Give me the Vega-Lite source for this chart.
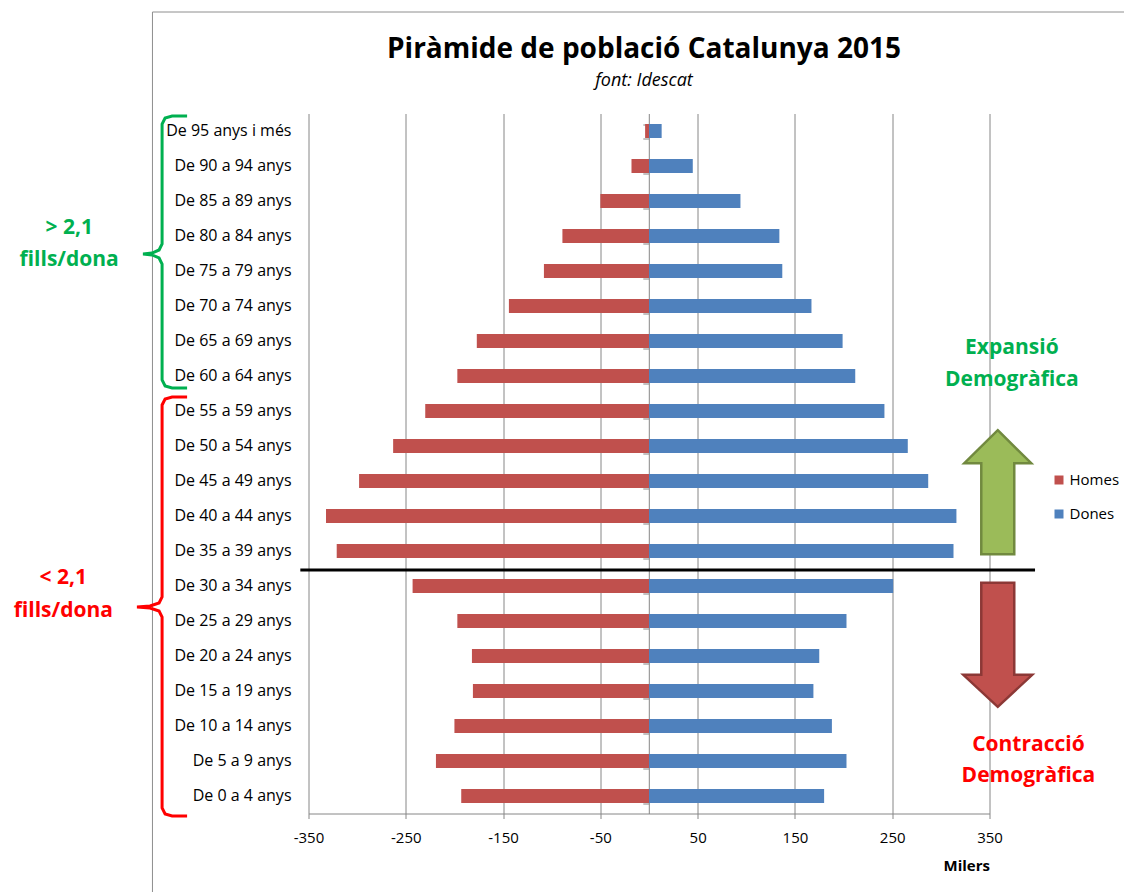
{
  "$schema": "https://vega.github.io/schema/vega-lite/v6.json",
  "width": 681,
  "height": 700,
  "autosize": {"type": "none"},
  "padding": {"left": 308.5, "top": 113.5, "right": 134.5, "bottom": 78.5},
  "background": "white",
  "config": {"view": {"stroke": null}, "font": "Open Sans"},
  "title": {
    "text": "Piràmide de població Catalunya 2015",
    "subtitle": "font: Idescat",
    "font": "Open Sans",
    "fontSize": 28,
    "fontWeight": "bold",
    "color": "black",
    "subtitleFont": "Open Sans",
    "subtitleFontSize": 18,
    "subtitleFontStyle": "italic",
    "subtitleColor": "black",
    "anchor": "middle",
    "frame": "group",
    "offset": -78,
    "subtitlePadding": 8,
    "dx": -5
  },
  "datasets": {
    "poblacio": [
      {"grup": "De 95 anys i més", "sexe": "Homes", "milers": -4},
      {"grup": "De 90 a 94 anys", "sexe": "Homes", "milers": -18},
      {"grup": "De 85 a 89 anys", "sexe": "Homes", "milers": -50},
      {"grup": "De 80 a 84 anys", "sexe": "Homes", "milers": -89},
      {"grup": "De 75 a 79 anys", "sexe": "Homes", "milers": -108},
      {"grup": "De 70 a 74 anys", "sexe": "Homes", "milers": -144},
      {"grup": "De 65 a 69 anys", "sexe": "Homes", "milers": -177},
      {"grup": "De 60 a 64 anys", "sexe": "Homes", "milers": -197},
      {"grup": "De 55 a 59 anys", "sexe": "Homes", "milers": -230},
      {"grup": "De 50 a 54 anys", "sexe": "Homes", "milers": -263},
      {"grup": "De 45 a 49 anys", "sexe": "Homes", "milers": -298},
      {"grup": "De 40 a 44 anys", "sexe": "Homes", "milers": -332},
      {"grup": "De 35 a 39 anys", "sexe": "Homes", "milers": -321},
      {"grup": "De 30 a 34 anys", "sexe": "Homes", "milers": -243},
      {"grup": "De 25 a 29 anys", "sexe": "Homes", "milers": -197},
      {"grup": "De 20 a 24 anys", "sexe": "Homes", "milers": -182},
      {"grup": "De 15 a 19 anys", "sexe": "Homes", "milers": -181},
      {"grup": "De 10 a 14 anys", "sexe": "Homes", "milers": -200},
      {"grup": "De 5 a 9 anys", "sexe": "Homes", "milers": -219},
      {"grup": "De 0 a 4 anys", "sexe": "Homes", "milers": -193},
      {"grup": "De 95 anys i més", "sexe": "Dones", "milers": 13},
      {"grup": "De 90 a 94 anys", "sexe": "Dones", "milers": 45},
      {"grup": "De 85 a 89 anys", "sexe": "Dones", "milers": 94},
      {"grup": "De 80 a 84 anys", "sexe": "Dones", "milers": 134},
      {"grup": "De 75 a 79 anys", "sexe": "Dones", "milers": 137},
      {"grup": "De 70 a 74 anys", "sexe": "Dones", "milers": 167},
      {"grup": "De 65 a 69 anys", "sexe": "Dones", "milers": 199},
      {"grup": "De 60 a 64 anys", "sexe": "Dones", "milers": 212},
      {"grup": "De 55 a 59 anys", "sexe": "Dones", "milers": 242},
      {"grup": "De 50 a 54 anys", "sexe": "Dones", "milers": 266},
      {"grup": "De 45 a 49 anys", "sexe": "Dones", "milers": 287},
      {"grup": "De 40 a 44 anys", "sexe": "Dones", "milers": 316},
      {"grup": "De 35 a 39 anys", "sexe": "Dones", "milers": 313},
      {"grup": "De 30 a 34 anys", "sexe": "Dones", "milers": 251},
      {"grup": "De 25 a 29 anys", "sexe": "Dones", "milers": 203},
      {"grup": "De 20 a 24 anys", "sexe": "Dones", "milers": 175},
      {"grup": "De 15 a 19 anys", "sexe": "Dones", "milers": 169},
      {"grup": "De 10 a 14 anys", "sexe": "Dones", "milers": 188},
      {"grup": "De 5 a 9 anys", "sexe": "Dones", "milers": 203},
      {"grup": "De 0 a 4 anys", "sexe": "Dones", "milers": 180}
    ],
    "marc": [
      {"x": -510.4, "x2": -510.4, "edat": 114.5, "edat2": -12},
      {"x": -510.4, "x2": 495, "edat": 114.5, "edat2": 114.5}
    ],
    "linia": [
      {"x": -358.4, "x2": 396.8, "edat": 34.8}
    ],
    "claus": [
      {"tipus": "alta", "ordre": 1, "x": -474.8, "edat": 99.64},
      {"tipus": "alta", "ordre": 2, "x": -490.2, "edat": 99.64},
      {"tipus": "alta", "ordre": 3, "x": -497.4, "edat": 99.36},
      {"tipus": "alta", "ordre": 4, "x": -500.5, "edat": 98.5},
      {"tipus": "alta", "ordre": 5, "x": -500.5, "edat": 81.36},
      {"tipus": "alta", "ordre": 6, "x": -503.6, "edat": 80.5},
      {"tipus": "alta", "ordre": 7, "x": -510.8, "edat": 80.07},
      {"tipus": "alta", "ordre": 8, "x": -520.1, "edat": 79.93},
      {"tipus": "alta", "ordre": 9, "x": -510.8, "edat": 79.79},
      {"tipus": "alta", "ordre": 10, "x": -503.6, "edat": 79.36},
      {"tipus": "alta", "ordre": 11, "x": -500.5, "edat": 78.5},
      {"tipus": "alta", "ordre": 12, "x": -500.5, "edat": 61.93},
      {"tipus": "alta", "ordre": 13, "x": -497.4, "edat": 61.07},
      {"tipus": "alta", "ordre": 14, "x": -490.2, "edat": 60.79},
      {"tipus": "alta", "ordre": 15, "x": -474.8, "edat": 60.79},
      {"tipus": "baixa", "ordre": 1, "x": -474.8, "edat": 59.5},
      {"tipus": "baixa", "ordre": 2, "x": -490.2, "edat": 59.5},
      {"tipus": "baixa", "ordre": 3, "x": -497.4, "edat": 59.21},
      {"tipus": "baixa", "ordre": 4, "x": -500.5, "edat": 58.36},
      {"tipus": "baixa", "ordre": 5, "x": -500.5, "edat": 30.93},
      {"tipus": "baixa", "ordre": 6, "x": -503.6, "edat": 30.07},
      {"tipus": "baixa", "ordre": 7, "x": -512.9, "edat": 29.64},
      {"tipus": "baixa", "ordre": 8, "x": -526.3, "edat": 29.5},
      {"tipus": "baixa", "ordre": 9, "x": -512.9, "edat": 29.36},
      {"tipus": "baixa", "ordre": 10, "x": -503.6, "edat": 28.93},
      {"tipus": "baixa", "ordre": 11, "x": -500.5, "edat": 28.07},
      {"tipus": "baixa", "ordre": 12, "x": -500.5, "edat": 0.79},
      {"tipus": "baixa", "ordre": 13, "x": -497.4, "edat": -0.07},
      {"tipus": "baixa", "ordre": 14, "x": -490.2, "edat": -0.36},
      {"tipus": "baixa", "ordre": 15, "x": -474.8, "edat": -0.36}
    ],
    "textos": [
      {"tipus": "alta", "text": "> 2,1", "x": -596, "edat": 83.6},
      {"tipus": "alta", "text": "fills/dona", "x": -596, "edat": 79.1},
      {"tipus": "baixa", "text": "< 2,1", "x": -602, "edat": 33.6},
      {"tipus": "baixa", "text": "fills/dona", "x": -602, "edat": 28.9},
      {"tipus": "alta", "text": "Expansió", "x": 373, "edat": 66.5},
      {"tipus": "alta", "text": "Demogràfica", "x": 373, "edat": 61.9},
      {"tipus": "baixa", "text": "Contracció", "x": 390, "edat": 9.8},
      {"tipus": "baixa", "text": "Demogràfica", "x": 390, "edat": 5.4}
    ],
    "fletxes": [
      {"tipus": "alta", "x": 358.5, "edat": 45.9},
      {"tipus": "baixa", "x": 358.5, "edat": 24.1}
    ]
  },
  "layer": [
    {
      "data": {"name": "poblacio"},
      "transform": [{"filter": "datum.sexe == 'Homes'"}],
      "mark": {"type": "bar"},
      "encoding": {
        "y": {
          "field": "grup",
          "type": "nominal",
          "sort": ["De 95 anys i més", "De 90 a 94 anys", "De 85 a 89 anys", "De 80 a 84 anys", "De 75 a 79 anys", "De 70 a 74 anys", "De 65 a 69 anys", "De 60 a 64 anys", "De 55 a 59 anys", "De 50 a 54 anys", "De 45 a 49 anys", "De 40 a 44 anys", "De 35 a 39 anys", "De 30 a 34 anys", "De 25 a 29 anys", "De 20 a 24 anys", "De 15 a 19 anys", "De 10 a 14 anys", "De 5 a 9 anys", "De 0 a 4 anys"],
          "scale": {"paddingInner": 0.6, "paddingOuter": 0.3},
          "axis": {"orient": "left", "title": null, "ticks": false, "tickSize": 0, "domain": false, "grid": false, "labelFont": "Open Sans", "labelFontSize": 16, "labelColor": "black", "labelPadding": 17.5}
        },
        "x": {
          "field": "milers",
          "type": "quantitative",
          "scale": {"domain": [-350, 350], "nice": false, "zero": false},
          "axis": {
            "orient": "bottom",
            "values": [-350, -250, -150, -50, 50, 150, 250, 350],
            "labelExpr": "'' + datum.value",
            "grid": true, "gridColor": "#868686", "gridWidth": 1, "gridOpacity": 1,
            "domain": true, "domainColor": "#868686", "ticks": true, "tickColor": "#868686", "tickSize": 5,
            "labelFont": "Open Sans", "labelFontSize": 15, "labelColor": "black", "labelPadding": 12, "labelFlush": false,
            "title": "Milers", "titleFont": "Open Sans", "titleFontSize": 15, "titleFontWeight": "bold", "titleColor": "black", "titleAnchor": "end", "titlePadding": 13
          }
        },
        "color": {
          "field": "sexe",
          "type": "nominal",
          "scale": {"domain": ["Homes", "Dones"], "range": ["#C0504D", "#4F81BD"]},
          "legend": {"orient": "none", "legendX": 743, "legendY": 359, "title": null, "symbolType": "square", "symbolSize": 81, "symbolStrokeWidth": 0, "labelFont": "Open Sans", "labelFontSize": 15, "labelColor": "black", "labelOffset": 3, "rowPadding": 18, "padding": 0}
        }
      }
    },
    {
      "data": {"name": "poblacio"},
      "transform": [{"filter": "datum.sexe == 'Dones'"}],
      "mark": {"type": "bar"},
      "encoding": {
        "y": {
          "field": "grup",
          "type": "nominal",
          "sort": ["De 95 anys i més", "De 90 a 94 anys", "De 85 a 89 anys", "De 80 a 84 anys", "De 75 a 79 anys", "De 70 a 74 anys", "De 65 a 69 anys", "De 60 a 64 anys", "De 55 a 59 anys", "De 50 a 54 anys", "De 45 a 49 anys", "De 40 a 44 anys", "De 35 a 39 anys", "De 30 a 34 anys", "De 25 a 29 anys", "De 20 a 24 anys", "De 15 a 19 anys", "De 10 a 14 anys", "De 5 a 9 anys", "De 0 a 4 anys"],
          "scale": {"paddingInner": 0.6, "paddingOuter": 0.3},
          "axis": {"orient": "left", "offset": -340.3, "title": null, "labels": false, "ticks": true, "tickSize": 6, "tickBand": "extent", "tickColor": "#868686", "domain": true, "domainColor": "#868686", "grid": false}
        },
        "x": {"field": "milers", "type": "quantitative", "scale": {"domain": [-350, 350], "nice": false, "zero": false}},
        "color": {"field": "sexe", "type": "nominal", "scale": {"domain": ["Homes", "Dones"], "range": ["#C0504D", "#4F81BD"]}}
      }
    },
    {
      "data": {"name": "marc"},
      "mark": {"type": "rule", "color": "#8E8E8E", "strokeWidth": 1},
      "encoding": {
        "x": {"field": "x", "type": "quantitative", "scale": {"domain": [-350, 350], "nice": false, "zero": false}},
        "x2": {"field": "x2"},
        "y": {"field": "edat", "type": "quantitative", "scale": {"domain": [0, 100], "nice": false, "zero": false}, "axis": null},
        "y2": {"field": "edat2"}
      }
    },
    {
      "data": {"name": "linia"},
      "mark": {"type": "rule", "color": "black", "strokeWidth": 3},
      "encoding": {
        "x": {"field": "x", "type": "quantitative", "scale": {"domain": [-350, 350], "nice": false, "zero": false}},
        "x2": {"field": "x2"},
        "y": {"field": "edat", "type": "quantitative", "scale": {"domain": [0, 100], "nice": false, "zero": false}, "axis": null}
      }
    },
    {
      "data": {"name": "claus"},
      "transform": [{"filter": "datum.tipus == 'alta'"}],
      "mark": {"type": "line", "color": "#00B050", "strokeWidth": 3, "interpolate": "linear"},
      "encoding": {
        "x": {"field": "x", "type": "quantitative", "scale": {"domain": [-350, 350], "nice": false, "zero": false}},
        "y": {"field": "edat", "type": "quantitative", "scale": {"domain": [0, 100], "nice": false, "zero": false}, "axis": null},
        "order": {"field": "ordre", "type": "quantitative"}
      }
    },
    {
      "data": {"name": "claus"},
      "transform": [{"filter": "datum.tipus == 'baixa'"}],
      "mark": {"type": "line", "color": "#FF0000", "strokeWidth": 3, "interpolate": "linear"},
      "encoding": {
        "x": {"field": "x", "type": "quantitative", "scale": {"domain": [-350, 350], "nice": false, "zero": false}},
        "y": {"field": "edat", "type": "quantitative", "scale": {"domain": [0, 100], "nice": false, "zero": false}, "axis": null},
        "order": {"field": "ordre", "type": "quantitative"}
      }
    },
    {
      "data": {"name": "textos"},
      "transform": [{"filter": "datum.tipus == 'alta'"}],
      "mark": {"type": "text", "color": "#00B050", "font": "Open Sans", "fontSize": 21, "fontWeight": "bold", "align": "center", "baseline": "middle"},
      "encoding": {
        "x": {"field": "x", "type": "quantitative", "scale": {"domain": [-350, 350], "nice": false, "zero": false}},
        "y": {"field": "edat", "type": "quantitative", "scale": {"domain": [0, 100], "nice": false, "zero": false}, "axis": null},
        "text": {"field": "text"}
      }
    },
    {
      "data": {"name": "textos"},
      "transform": [{"filter": "datum.tipus == 'baixa'"}],
      "mark": {"type": "text", "color": "#FF0000", "font": "Open Sans", "fontSize": 21, "fontWeight": "bold", "align": "center", "baseline": "middle"},
      "encoding": {
        "x": {"field": "x", "type": "quantitative", "scale": {"domain": [-350, 350], "nice": false, "zero": false}},
        "y": {"field": "edat", "type": "quantitative", "scale": {"domain": [0, 100], "nice": false, "zero": false}, "axis": null},
        "text": {"field": "text"}
      }
    },
    {
      "data": {"name": "fletxes"},
      "transform": [{"filter": "datum.tipus == 'alta'"}],
      "mark": {"type": "point", "shape": "M0,-1 L0.54,-0.468 L0.266,-0.468 L0.266,1 L-0.266,1 L-0.266,-0.468 L-0.54,-0.468 Z", "size": 15376, "filled": true, "fill": "#9BBB59", "stroke": "#71893F", "strokeWidth": 2.5, "opacity": 1},
      "encoding": {
        "x": {"field": "x", "type": "quantitative", "scale": {"domain": [-350, 350], "nice": false, "zero": false}},
        "y": {"field": "edat", "type": "quantitative", "scale": {"domain": [0, 100], "nice": false, "zero": false}, "axis": null}
      }
    },
    {
      "data": {"name": "fletxes"},
      "transform": [{"filter": "datum.tipus == 'baixa'"}],
      "mark": {"type": "point", "shape": "M-0.266,-1 L0.266,-1 L0.266,0.484 L0.556,0.484 L0,1 L-0.556,0.484 L-0.266,0.484 Z", "size": 15376, "filled": true, "fill": "#C0504D", "stroke": "#8C3836", "strokeWidth": 2.5, "opacity": 1},
      "encoding": {
        "x": {"field": "x", "type": "quantitative", "scale": {"domain": [-350, 350], "nice": false, "zero": false}},
        "y": {"field": "edat", "type": "quantitative", "scale": {"domain": [0, 100], "nice": false, "zero": false}, "axis": null}
      }
    }
  ],
  "resolve": {"scale": {"y": "independent"}, "axis": {"y": "independent"}}
}
